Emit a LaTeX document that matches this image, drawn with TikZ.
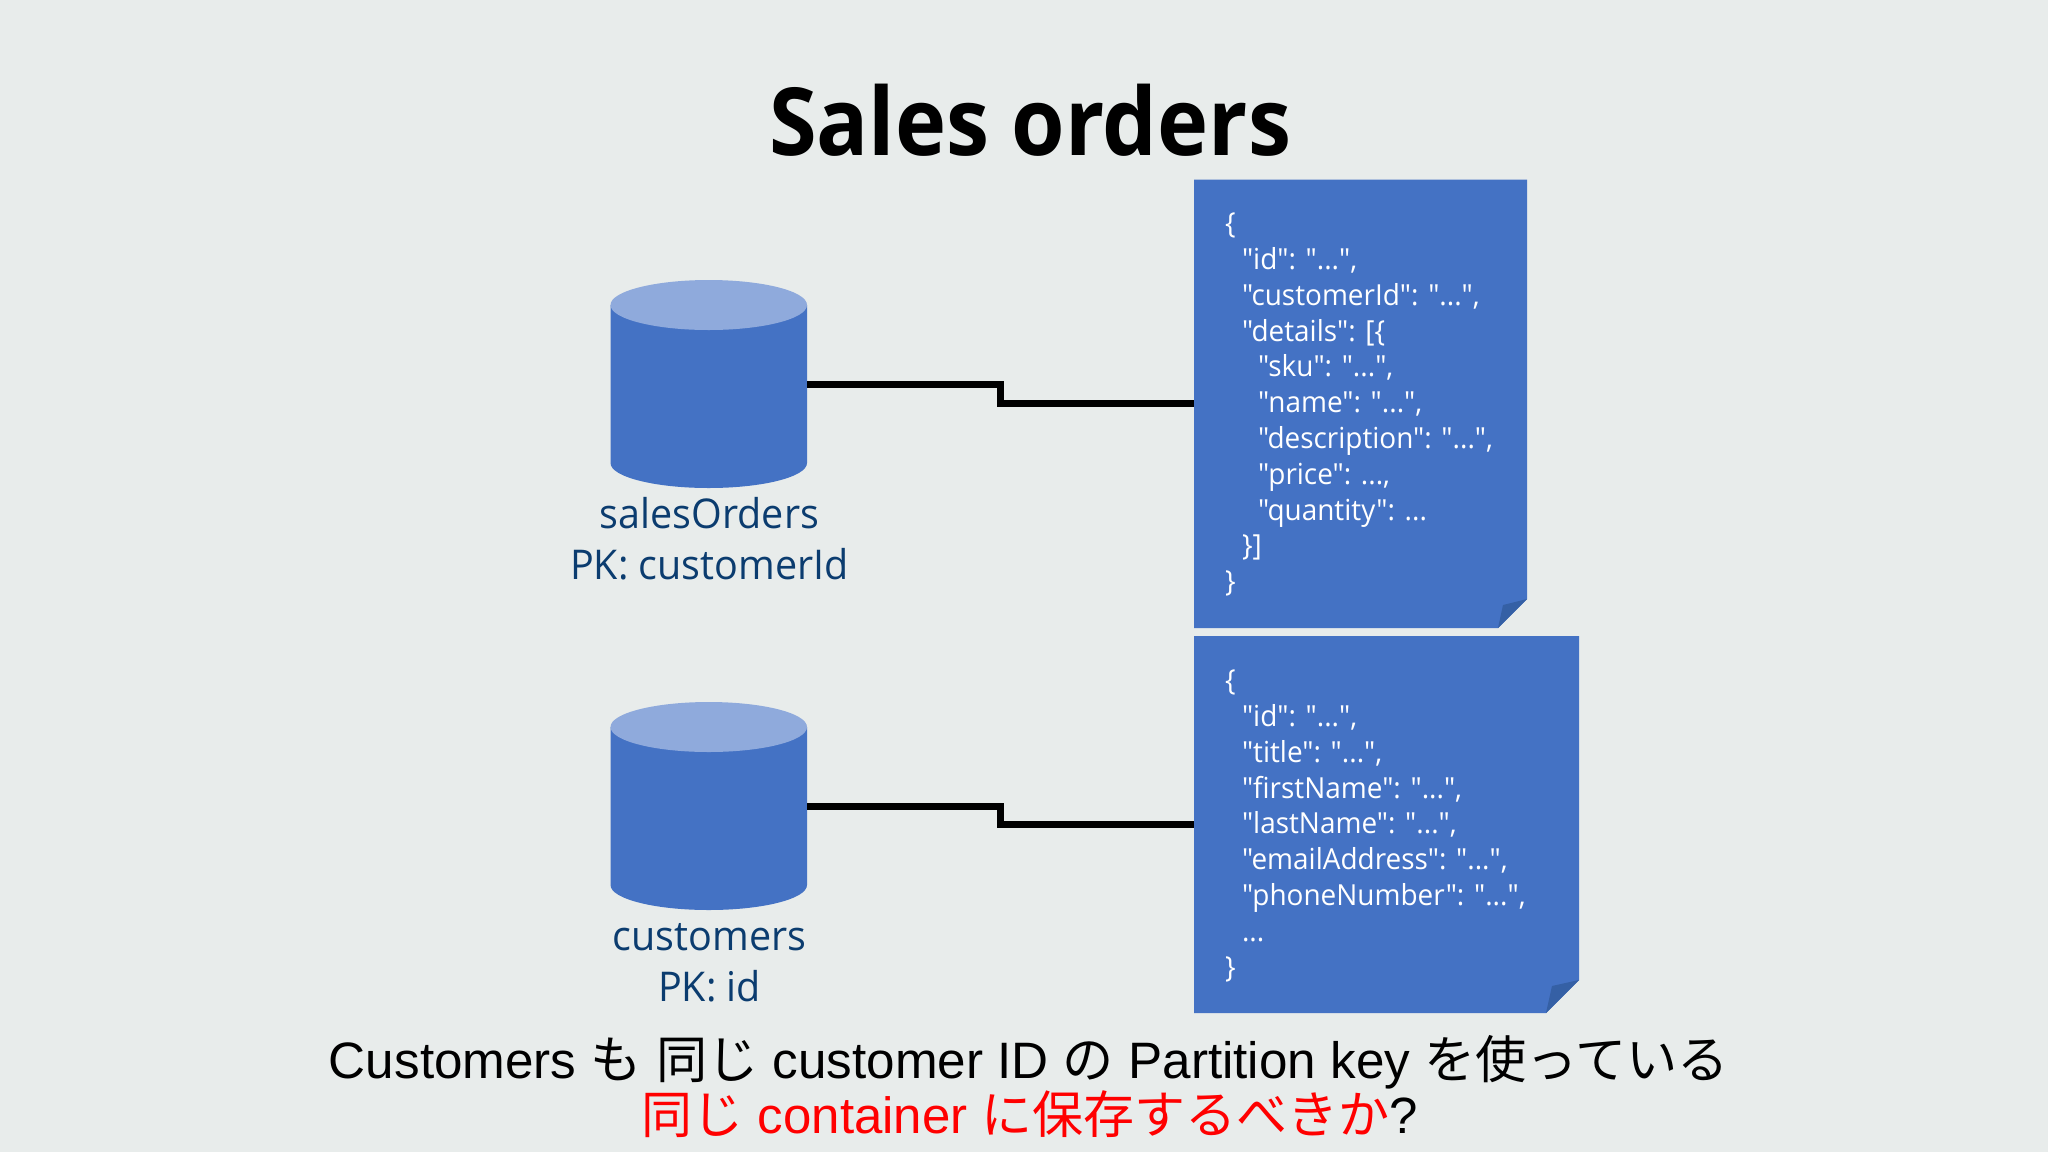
\documentclass[tikz,border=0pt]{standalone}
\usepackage{fontspec}
\setmainfont{Open Sans}
\newfontfamily\latn{Liberation Sans}
\newfontfamily\cjk{Noto Sans CJK JP}
\newfontfamily\seg[FakeStretch=0.963]{Open Sans}
\newfontfamily\segsemi[FakeStretch=0.92]{Open Sans}
\definecolor{bgc}{HTML}{E8ECEB}
\definecolor{blu}{HTML}{4472C4}
\definecolor{lite}{HTML}{8FAADC}
\definecolor{foldc}{HTML}{3560A5}
\definecolor{lab}{HTML}{0B3C6F}
\newcommand{\cj}[1]{{\cjk #1}}
\tikzset{
  x=1pt,y=-1pt,
  anchorbox/.style={inner sep=0pt,outer sep=0pt,minimum width=#1},
  json/.style={anchor=north west,inner sep=0pt,outer sep=0pt,align=left,text=white,font=\seg\fontsize{29}{35.8}\selectfont},
  caption/.style={anchor=base,inner sep=0pt,outer sep=0pt,text=lab,font=\seg\fontsize{41}{48}\selectfont},
  bottomline/.style={anchor=base,inner sep=0pt,outer sep=0pt,font=\latn\fontsize{#1}{60}\selectfont},
  wire/.style={draw=black,line width=7pt,miter limit=10},
}
\begin{document}
\begin{tikzpicture}
\useasboundingbox (0,0) rectangle (2048,1152);
\fill[bgc] (0,0) rectangle (2048,1152);
\node[anchor=base,inner sep=0pt,font=\segsemi\bfseries\fontsize{94}{100}\selectfont] (title) at (1030,155) {Sales orders};
% containers
\fill[blu] (610.5,305) -- (610.5,463) arc[start angle=180,end angle=360,x radius=98.25pt,y radius=25pt] -- (807,305) -- cycle;
\fill[lite] (708.75,305) ellipse [x radius=98.25pt,y radius=25pt];
\node[anchorbox=196.5pt,minimum height=208pt] (cylA) at (708.75,384) {};
\fill[blu] (610.5,727) -- (610.5,885) arc[start angle=180,end angle=360,x radius=98.25pt,y radius=25pt] -- (807,727) -- cycle;
\fill[lite] (708.75,727) ellipse [x radius=98.25pt,y radius=25pt];
\node[anchorbox=196.5pt,minimum height=208pt] (cylB) at (708.75,806) {};
% documents
\fill[blu] (1194,179.5) -- (1527,179.5) -- (1527,599) -- (1498,628) -- (1194,628) -- cycle;
\fill[foldc] (1498,628) -- (1527,599) -- (1503,605) -- cycle;
\node[anchorbox=333pt,minimum height=448.5pt] (docA) at (1360.5,403.75) {};
\fill[blu] (1194,636) -- (1579,636) -- (1579,980) -- (1546,1013) -- (1194,1013) -- cycle;
\fill[foldc] (1546,1013) -- (1579,980) -- (1552,986) -- cycle;
\node[anchorbox=385pt,minimum height=377pt] (docB) at (1386.5,824.5) {};
% connectors
\draw[wire] (cylA.east) -- ++(193.5,0) |- (docA.west);
\draw[wire] (cylB.east) -- ++(193.5,0) |- (docB.west);
% json
\node[json] (jsonA) at (1225,213) {\{\\
\hspace{17pt}"id": "...",\\
\hspace{17pt}"customerId": "...",\\
\hspace{17pt}"details": [\{\\
\hspace{33pt}"sku": "...",\\
\hspace{33pt}"name": "...",\\
\hspace{33pt}"description": "...",\\
\hspace{33pt}"price": ...,\\
\hspace{33pt}"quantity": ...\\
\hspace{17pt}\}]\\
\}};
\node[json] (jsonB) at (1225,670) {\{\\
\hspace{17pt}"id": "...",\\
\hspace{17pt}"title": "...",\\
\hspace{17pt}"firstName": "...",\\
\hspace{17pt}"lastName": "...",\\
\hspace{17pt}"emailAddress": "...",\\
\hspace{17pt}"phoneNumber": "...",\\
\hspace{17pt}...\\
\}};
% captions
\node[caption] (capA1) at (709.5,528) {salesOrders};
\node[caption] (capA2) at (709.5,579) {PK: customerId};
\node[caption] (capB1) at (709.5,950) {customers};
\node[caption] (capB2) at (709.5,1001) {PK: id};
% bottom
\node[bottomline=51.2] (line1) at (1029,1078) {Customers \cj{も} \cj{同じ} customer ID \cj{の} Partition key \cj{を使っている}};
\node[bottomline=51] (line2) at (1030,1133) {\textcolor{red}{\cj{同じ} container \cj{に保存するべきか}}?};
\end{tikzpicture}
\end{document}
